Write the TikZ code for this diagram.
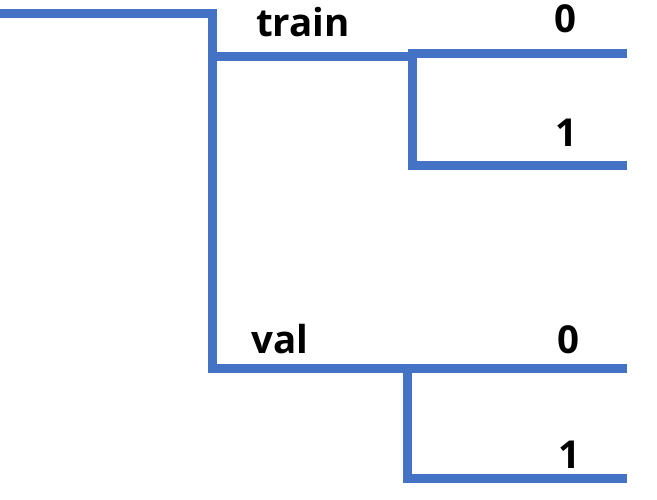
\documentclass[tikz,border=0pt]{standalone}
\usepackage{fontspec}
\setmainfont{Open Sans}
\definecolor{treeblue}{HTML}{4472C4}
\begin{document}
\begin{tikzpicture}[x=1pt,y=-1pt,
  branch/.style={draw=treeblue,line width=9pt,line join=miter,line cap=rect},
  lbl/.style={anchor=base,inner sep=0pt,font=\fontsize{38.5}{40}\selectfont\bfseries,text=black}]
\useasboundingbox (0,0) rectangle (657,500);
% coordinates
\coordinate (root) at (0,14);
\coordinate (r1) at (212,14);
\coordinate (tr0) at (212,57);
\coordinate (tr1) at (412,57);
\coordinate (va0) at (212,368);
\coordinate (va1) at (627,368);
\coordinate (t0e) at (627,54);
\coordinate (t0s) at (412,54);
\coordinate (t1s) at (412,166);
\coordinate (t1e) at (627,166);
\coordinate (v1s) at (407,368);
\coordinate (v1c) at (407,478);
\coordinate (v1e) at (627,478);
% lines
\draw[branch,line cap=butt] (root) -- (r1) -- (va0) -- (va1);
\draw[branch,line cap=butt] (tr0) -- (tr1);
\draw[branch,line cap=butt] (t0e) -- (t0s) -- (t1s) -- (t1e);
\draw[branch,line cap=butt] (v1s) -- (v1c) -- (v1e);
% labels
\node[lbl] (ltrain) at (303,37) {train};
\node[lbl] (lt0) at (565,33) {0};
\node[lbl] (lt1) at (566,147) {1};
\node[lbl] (lval) at (280,353) {val};
\node[lbl] (lv0) at (568,353) {0};
\node[lbl] (lv1) at (569,468) {1};
\end{tikzpicture}
\end{document}
